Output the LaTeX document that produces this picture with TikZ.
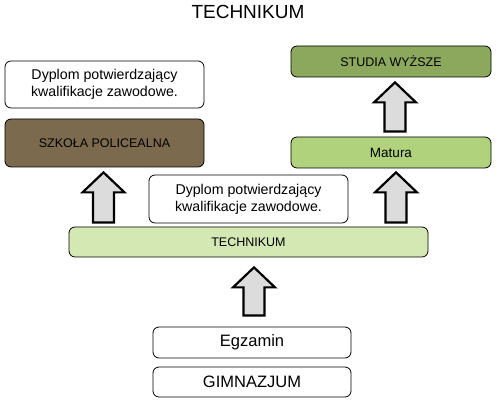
\documentclass[tikz,border=0pt]{standalone}
\usepackage{fontspec}
\setmainfont{Liberation Sans}
\usetikzlibrary{calc}

\definecolor{brownbox}{HTML}{7B6A4E}
\definecolor{darkgreen}{HTML}{8CA85C}
\definecolor{midgreen}{HTML}{B0D27C}
\definecolor{lightgreen}{HTML}{D4E8B4}
\definecolor{arrowgray}{HTML}{DCDCDC}

\tikzset{
  box/.style={draw, rounded corners=6pt, line width=0.8pt, inner sep=0pt,
    align=center, font=\fontsize{12.5}{17}\selectfont},
  blockarr/.style={draw, fill=arrowgray, line width=2.2pt, line join=miter}
}

% block arrow: x and bottom from #1, tip from #2
\newcommand{\blockup}[2]{%
  \draw[blockarr] let \p1=(#1), \p2=(#2) in
    (\x1-10.5pt,\y1) -- (\x1+10.5pt,\y1) -- (\x1+10.5pt,\y2-20pt)
    -- (\x1+21pt,\y2-20pt) -- (\x1,\y2) -- (\x1-21pt,\y2-20pt)
    -- (\x1-10.5pt,\y2-20pt) -- cycle;}

\begin{document}
\begin{tikzpicture}[x=1pt, y=1pt]
  \useasboundingbox (0,0) rectangle (496,403);

  \node[font=\fontsize{19}{22}\selectfont] (title) at (248,391) {TECHNIKUM};

  \node[box, minimum width=199, minimum height=47, font=\fontsize{14.2}{17}\selectfont]
    (dypL) at (104.5,318.5) {Dyplom potwierdzający\\kwalifikacje zawodowe.};
  \node[box, fill=brownbox, minimum width=199, minimum height=48]
    (szkola) at (104.5,260) {SZKOŁA POLICEALNA};
  \node[box, fill=darkgreen, minimum width=200, minimum height=31]
    (studia) at (391,341.5) {STUDIA WYŻSZE};
  \node[box, fill=midgreen, minimum width=200, minimum height=31, font=\fontsize{13.5}{17}\selectfont]
    (matura) at (391,250.5) {Matura};
  \node[box, minimum width=199, minimum height=48, font=\fontsize{14.2}{17}\selectfont]
    (dypM) at (248.5,204) {Dyplom potwierdzający\\kwalifikacje zawodowe.};
  \node[box, fill=lightgreen, minimum width=359, minimum height=30]
    (tech) at (248.5,161) {TECHNIKUM};
  \node[box, minimum width=198, minimum height=31, font=\fontsize{16.5}{20}\selectfont]
    (egz) at (252,60.5) {Egzamin};
  \node[box, minimum width=198, minimum height=30, font=\fontsize{16.5}{20}\selectfont]
    (gimn) at (252,21) {GIMNAZJUM};

  \blockup{$(egz.north)+(2,11)$}{$(tech.south)+(0,-10)$}
  \blockup{$(szkola.south |- tech.north)+(-1,4)$}{$(szkola.south)+(0,-5)$}
  \blockup{$(matura.south |- tech.north)+(5,4)$}{$(matura.south)+(0,-4)$}
  \blockup{$(matura.north)+(4,5)$}{$(studia.south)+(0,-5)$}
\end{tikzpicture}
\end{document}
